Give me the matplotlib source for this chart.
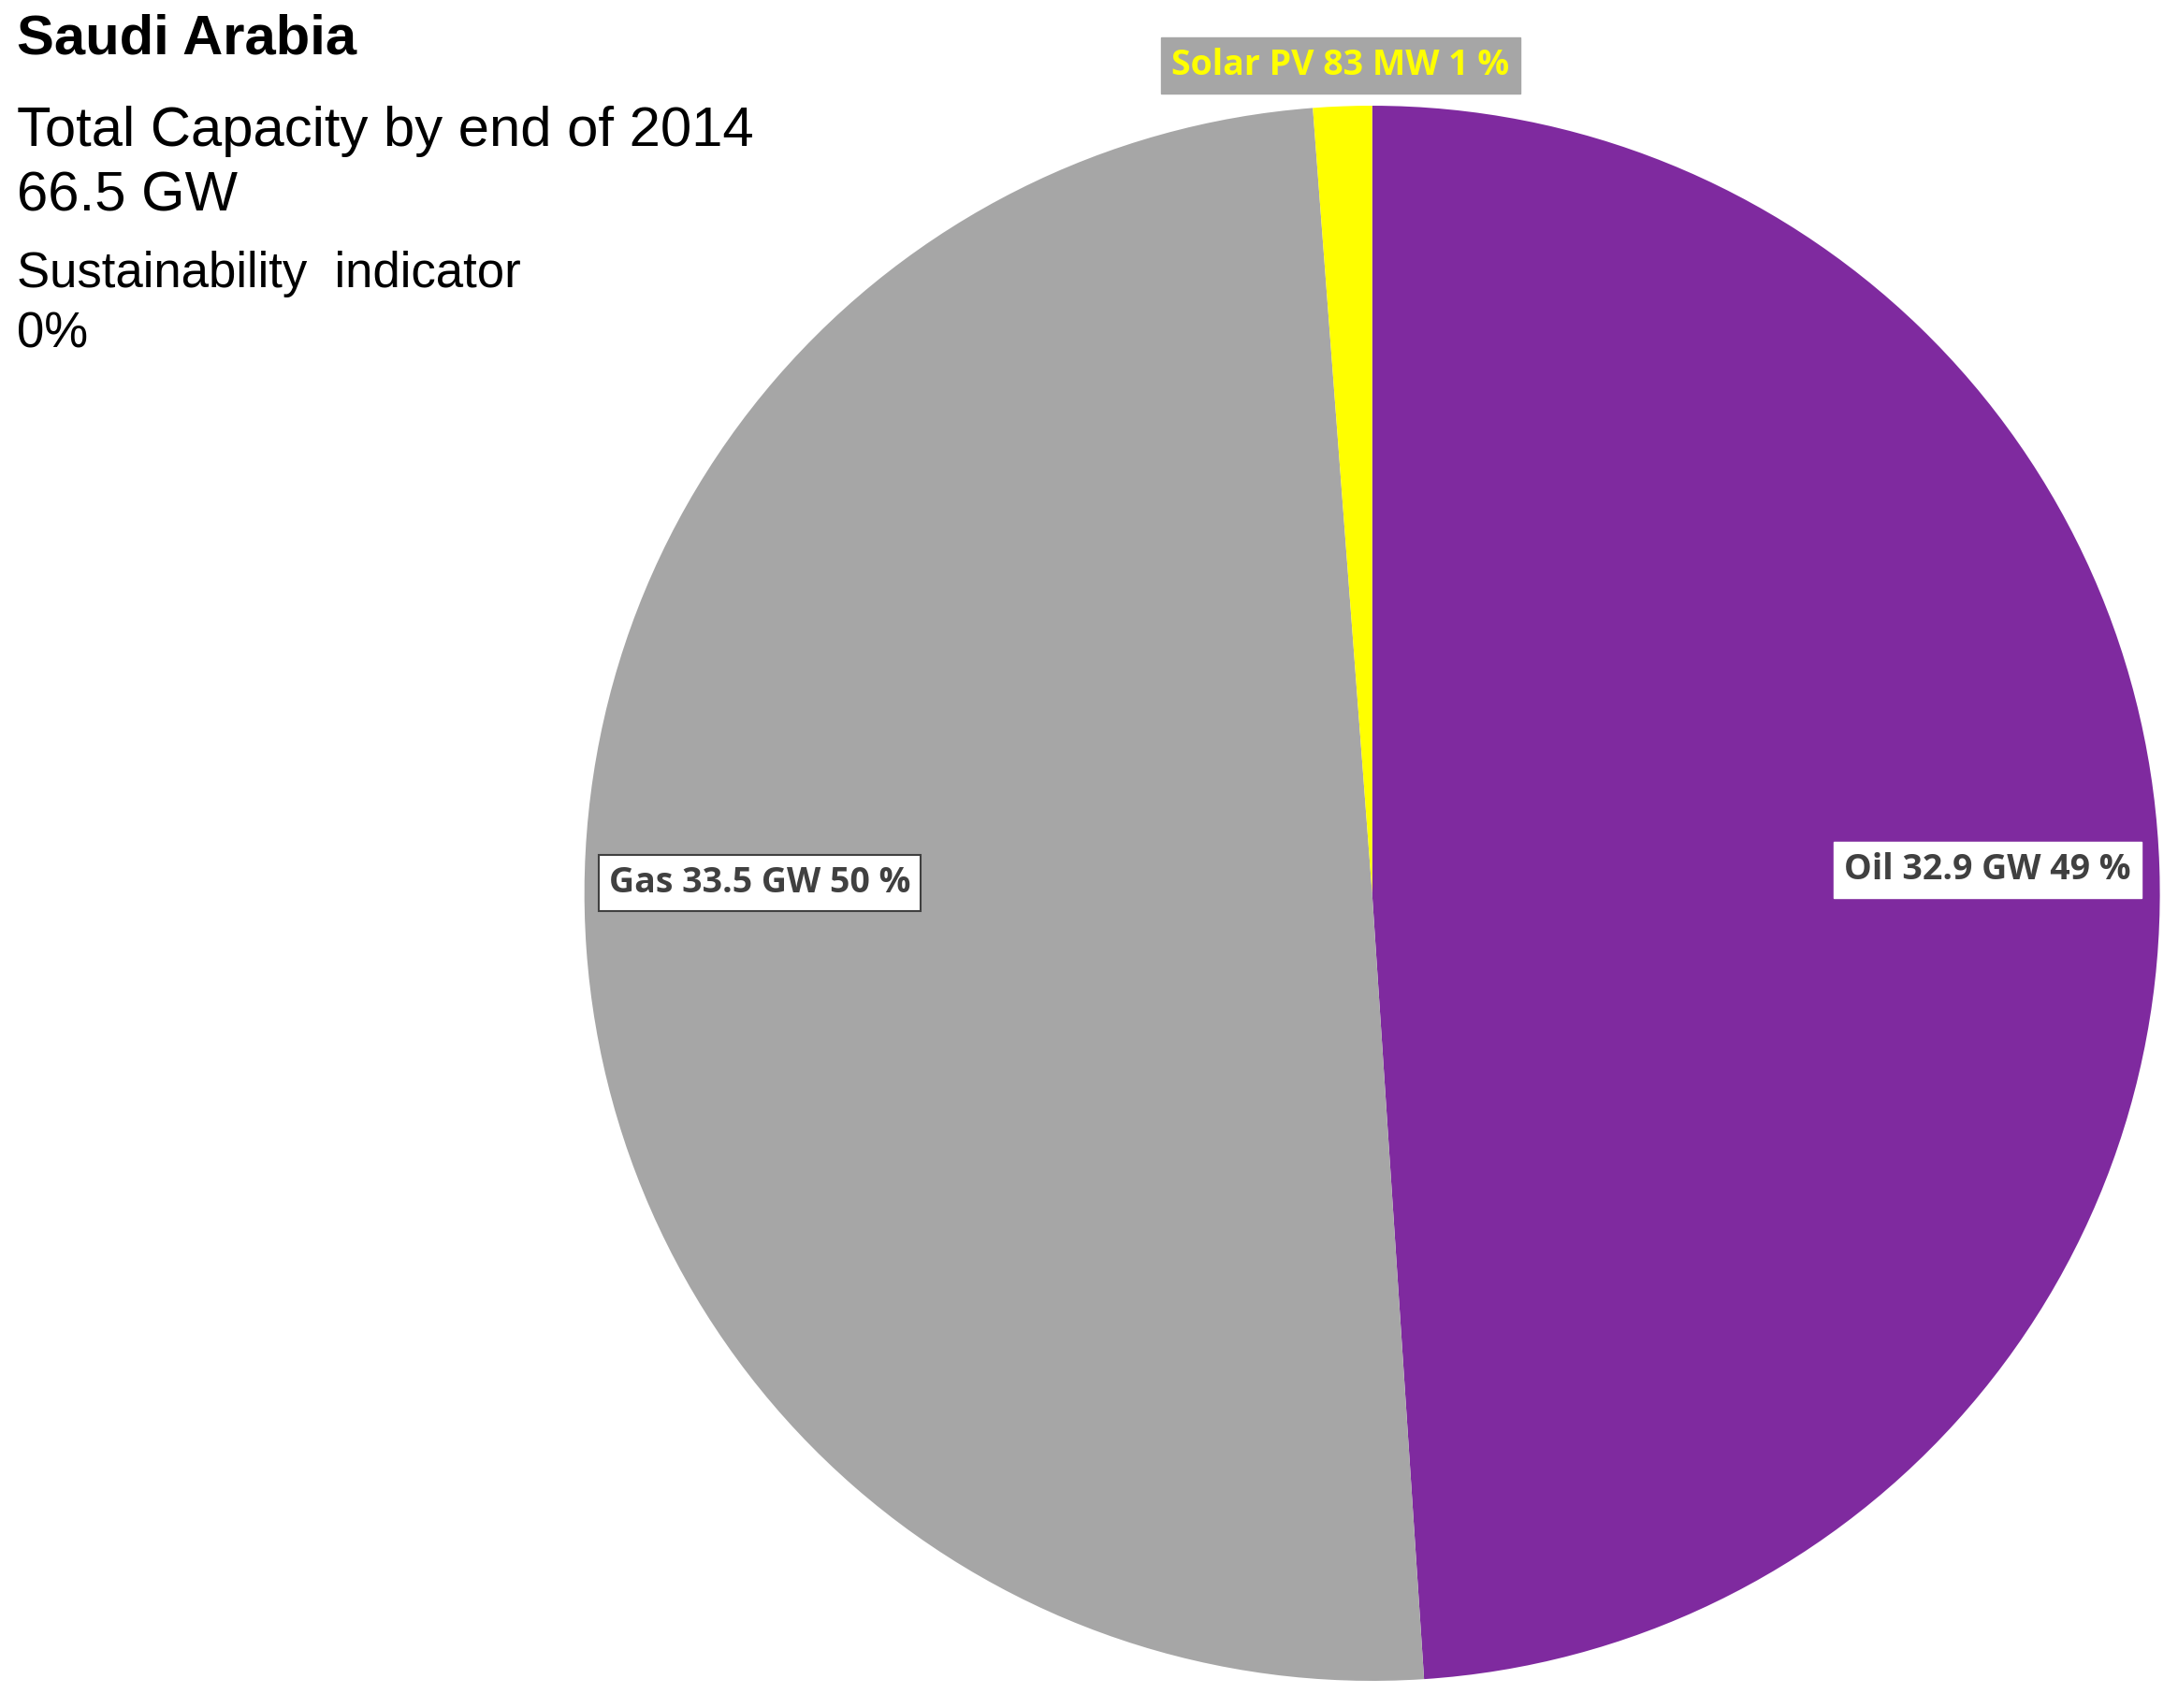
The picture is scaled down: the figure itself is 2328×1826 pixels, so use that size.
import matplotlib.pyplot as plt

# shares (wedge angles), capacities for labels
sources = ['Oil', 'Gas', 'Solar PV']
shares = [48.95, 49.85, 1.2]
labels = ['Oil 32.9 GW 49 %', 'Gas 33.5 GW 50 %', 'Solar PV 83 MW 1 %']
colors = ['#7F2A9F', '#A6A6A6', '#FFFF00']

fig = plt.figure(figsize=(23.28, 18.26), dpi=100)
ax = fig.add_axes([0.630 - 0.3617, 0.477 - 0.4611, 0.7234, 0.9222])
wedges, _ = ax.pie(shares, colors=colors, startangle=90, counterclock=False,
                   wedgeprops=dict(linewidth=0), frame=False)
ax.set_xlim(-1, 1)
ax.set_ylim(-1, 1)
ax.set_aspect('equal')
ax.axis('off')

lab_font = dict(family='Open Sans', fontweight='bold', fontsize=27)
fig.text(2124 / 2328, 1 - 930 / 1826, labels[0], ha='center', va='center', color='#404040',
         bbox=dict(boxstyle='square,pad=0.3', fc='white', ec='white'), **lab_font)
fig.text(812 / 2328, 1 - 944 / 1826, labels[1], ha='center', va='center', color='#404040',
         bbox=dict(boxstyle='square,pad=0.3', fc='white', ec='#404040', lw=1.5), **lab_font)
fig.text(1433 / 2328, 1 - 70 / 1826, labels[2], ha='center', va='center', color='#FFFF00',
         bbox=dict(boxstyle='square,pad=0.3', fc='#A6A6A6', ec='#A6A6A6'), **lab_font)

fig.text(18 / 2328, 1 - 42 / 1826, 'Saudi Arabia', ha='left', va='center',
         fontsize=43, fontweight='bold', family='Liberation Sans')
fig.text(18 / 2328, 1 - 141 / 1826, 'Total Capacity by end of 2014', ha='left', va='center',
         fontsize=43, family='Liberation Sans')
fig.text(18 / 2328, 1 - 210 / 1826, '66.5 GW', ha='left', va='center',
         fontsize=43, family='Liberation Sans')
fig.text(18 / 2328, 1 - 293 / 1826, 'Sustainability  indicator', ha='left', va='center',
         fontsize=38, family='Liberation Sans')
fig.text(18 / 2328, 1 - 357 / 1826, '0%', ha='left', va='center',
         fontsize=38, family='Liberation Sans')

fig.savefig('out.png', dpi=100)
